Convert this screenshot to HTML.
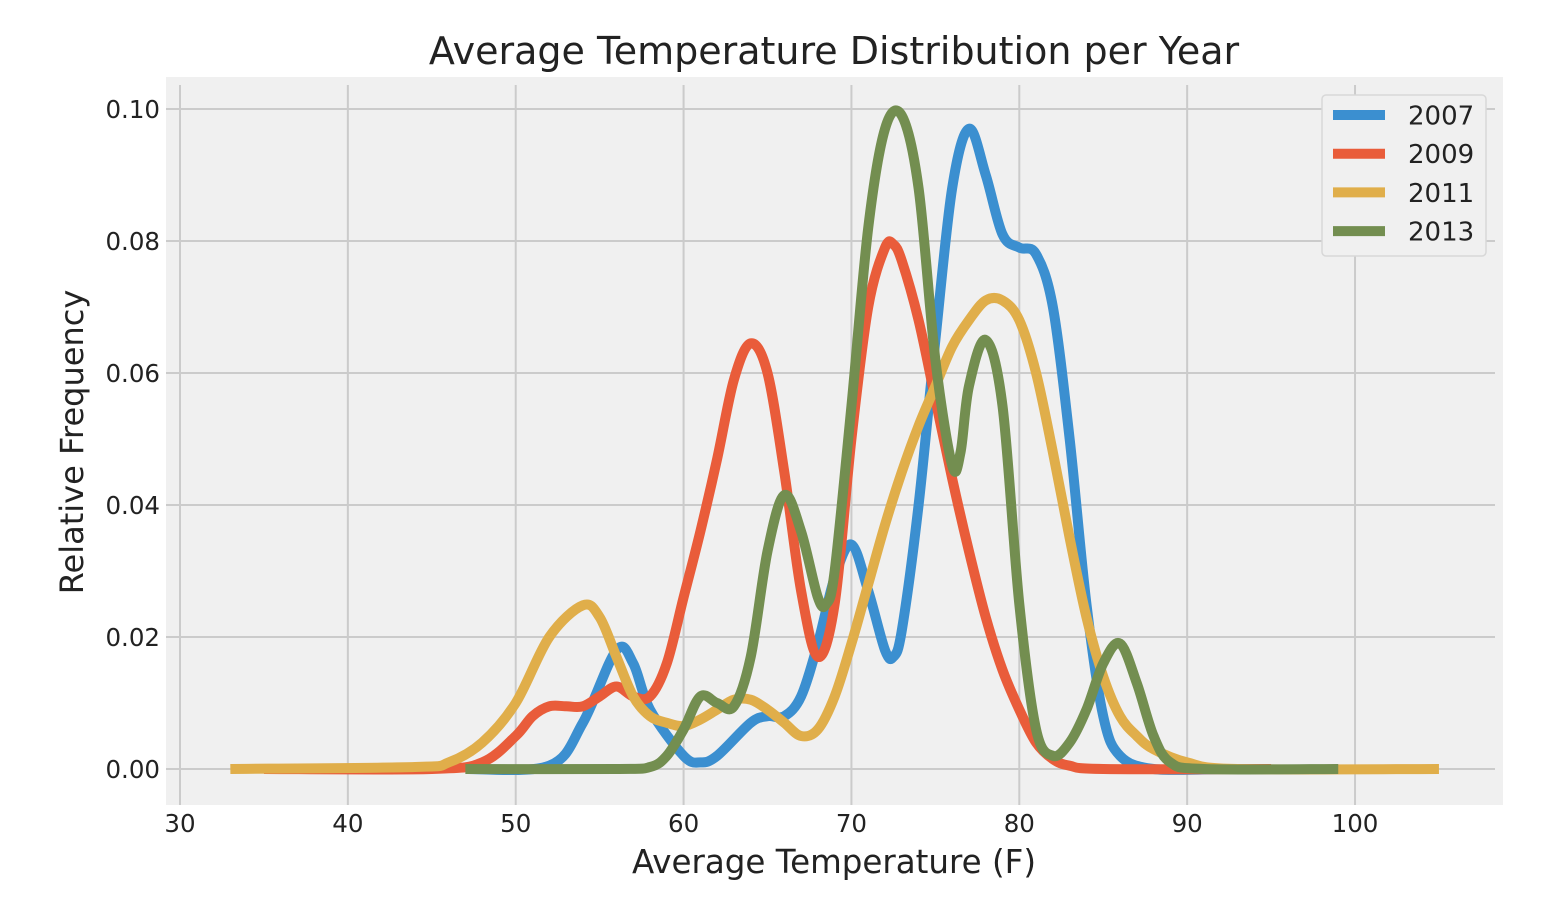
<!DOCTYPE html>
<html><head><meta charset="utf-8"><style>
body{margin:0;background:#fff;}
svg text{font-family:"DejaVu Sans","Liberation Sans",sans-serif;fill:#222;}
</style></head><body>
<svg id="chart" width="1556" height="918" xmlns="http://www.w3.org/2000/svg">
<rect x="166" y="77" width="1337" height="728" fill="#f0f0f0"/>
<g id="grid"></g>
<g id="series"></g>
<text x="834" y="64" font-size="38" text-anchor="middle">Average Temperature Distribution per Year</text>
<text x="834" y="873" font-size="32.5" text-anchor="middle">Average Temperature (F)</text>
<text x="0" y="0" font-size="32" text-anchor="middle" transform="translate(83,442) rotate(-90)">Relative Frequency</text>
<g>
<rect x="1322" y="95" width="164" height="161" rx="4" fill="#f0f0f0" stroke="#d8d8d8" stroke-width="1.5"/>
<g id="legend-entries"></g>
</g>
</svg>
<script>
const xTicks=[30,40,50,60,70,80,90,100];
const yTicks=[0,0.02,0.04,0.06,0.08,0.10];
const yTickLabels=["0.00","0.02","0.04","0.06","0.08","0.10"];
const seriesNames=["2007","2009","2011","2013"];
const seriesColors=["#3b8fd0","#e95c3a","#e0ae4a","#738e50"];
const temps2007=[47,52,54,56,57,58,60,61,62,64,65,66,67,68,69,70,71,72,72.5,73,74,75,76,77,78,79,80,81,82,83,84,85,86,88,92];
const vals2007=[0,0.0005,0.007,0.018,0.016,0.009,0.002,0.001,0.002,0.007,0.008,0.008,0.011,0.019,0.029,0.034,0.027,0.018,0.017,0.021,0.04,0.065,0.088,0.097,0.09,0.081,0.079,0.078,0.07,0.05,0.025,0.008,0.002,0,0];
const temps2009=[35,45,48,50,51,52,53,54,55,56,57,58,59,60,61,62,63,64,65,66,67,68,69,70,71,72,72.5,73,74,75,76,77,78,79,80,81,82,83,85,95];
const vals2009=[0,0,0.001,0.005,0.008,0.0095,0.0095,0.0095,0.011,0.0125,0.011,0.011,0.016,0.026,0.036,0.047,0.059,0.0645,0.06,0.045,0.027,0.017,0.025,0.05,0.07,0.079,0.0795,0.077,0.068,0.056,0.044,0.033,0.023,0.015,0.009,0.004,0.0015,0.0005,0,0];
const temps2011=[33,44,46,48,50,52,54,55,56,57,58,59,60,61,62,63,64,65,66,67,68,69,70,71,72,73,74,75,76,77,78,79,80,81,82,83,84,85,86,87,88,90,93,105];
const vals2011=[0,0.0003,0.001,0.004,0.01,0.02,0.0248,0.023,0.017,0.011,0.008,0.007,0.0065,0.0075,0.009,0.0105,0.0105,0.009,0.007,0.005,0.006,0.011,0.019,0.028,0.037,0.045,0.052,0.058,0.064,0.068,0.071,0.071,0.068,0.06,0.048,0.035,0.023,0.014,0.008,0.005,0.003,0.001,0,0];
const temps2013=[47,56,58,59,60,61,62,63,64,65,66,67,68,68.5,69,70,71,72,73,74,75,76,76.5,77,78,79,80,81,82,83,84,85,86,87,88,89,91,99];
const vals2013=[0,0,0.0003,0.002,0.006,0.011,0.010,0.0095,0.017,0.033,0.0415,0.036,0.026,0.025,0.03,0.055,0.082,0.097,0.099,0.088,0.062,0.046,0.048,0.058,0.065,0.055,0.025,0.006,0.002,0.004,0.009,0.016,0.019,0.013,0.005,0.001,0,0];
const allTemps=[temps2007,temps2009,temps2011,temps2013];
const allVals=[vals2007,vals2009,vals2011,vals2013];

const NS="http://www.w3.org/2000/svg";
const xs=t=>180+(t-30)*16.786;
const ys=v=>769-v*6600;
function mk(tag,attrs,parent){const e=document.createElementNS(NS,tag);for(const k in attrs)e.setAttribute(k,attrs[k]);parent.appendChild(e);return e;}
const grid=document.getElementById('grid');
const svg=document.getElementById('chart');
xTicks.forEach(t=>{
  const l=mk('line',{x1:xs(t),x2:xs(t),y1:85,y2:805,stroke:'#cbcbcb','stroke-width':2},grid);
  
  
  const tx=mk('text',{x:xs(t),y:832,'font-size':24.5,'text-anchor':'middle'},svg);
  tx.textContent=t;
  
  
});
yTicks.forEach((v,i)=>{
  const l=mk('line',{x1:166,x2:1495,y1:ys(v),y2:ys(v),stroke:'#cbcbcb','stroke-width':2},grid);
  
  
  const tx=mk('text',{x:160,y:ys(v)+9,'font-size':24.5,'text-anchor':'end'},svg);
  tx.textContent=yTickLabels[i];
  
  
});
function pathFor(T,V){
  const p=T.map((t,i)=>[xs(t),ys(V[i])]);
  let d=`M${p[0][0]},${p[0][1]}`;
  for(let i=0;i<p.length-1;i++){
    const p0=p[Math.max(0,i-1)],p1=p[i],p2=p[i+1],p3=p[Math.min(p.length-1,i+2)];
    const c1=[p1[0]+(p2[0]-p0[0])/6,p1[1]+(p2[1]-p0[1])/6];
    const c2=[p2[0]-(p3[0]-p1[0])/6,p2[1]-(p3[1]-p1[1])/6];
    d+=` C${c1[0]},${c1[1]} ${c2[0]},${c2[1]} ${p2[0]},${p2[1]}`;
  }
  return d;
}
const sg=document.getElementById('series');
const lg=document.getElementById('legend-entries');
seriesNames.forEach((n,i)=>{
  const p=mk('path',{d:pathFor(allTemps[i],allVals[i]),fill:'none',stroke:seriesColors[i],'stroke-width':10,'stroke-linejoin':'round'},sg);
  
  
  const y=115+i*38.7;
  const l=mk('line',{x1:1333,x2:1385,y1:y,y2:y,stroke:seriesColors[i],'stroke-width':10},lg);
  
  
  const t=mk('text',{x:1408,y:y+9.5,'font-size':26},lg);
  t.textContent=n;
  
  
});
</script>
</body></html>
